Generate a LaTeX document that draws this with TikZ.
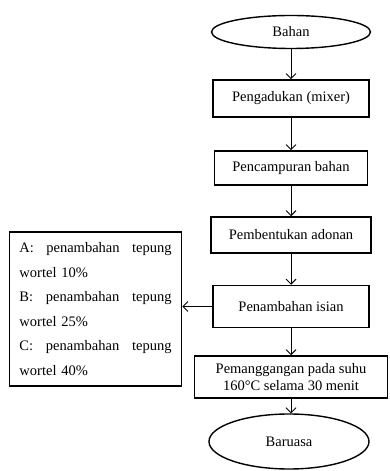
\documentclass[tikz,border=0pt]{standalone}
\usepackage{fontspec}
\setmainfont{Liberation Serif}
\usepackage{tikz}
\usetikzlibrary{shapes.geometric,arrows.meta}

\begin{document}
\begin{tikzpicture}[x=1pt, y=1pt,
    box/.style={draw, line width=1.5pt, align=center, inner sep=0pt,
                font=\fontsize{14.5}{17}\selectfont},
    term/.style={draw, ellipse, line width=1.4pt, inner sep=0pt,
                font=\fontsize{14.5}{17}\selectfont},
    note/.style={draw, line width=1.5pt, text width=152pt, align=left, inner xsep=10pt,
                font=\fontsize{14.5}{24.6}\selectfont},
    arr/.style={->, line width=0.9pt, >={Straight Barb[length=5pt, width=10pt]}}
]
\useasboundingbox (0,0) rectangle (389,471);
\node[term, minimum width=159pt, minimum height=33pt] (bahan) at (291,439) {Bahan};
\node[box, minimum width=156pt, minimum height=37pt] (aduk) at (291,372.5) {Pengadukan (mixer)};
\node[box, minimum width=153pt, minimum height=34pt] (campur) at (291,303) {Pencampuran bahan};
\node[box, minimum width=160pt, minimum height=36pt] (bentuk) at (291,236) {Pembentukan adonan};
\node[box, minimum width=156pt, minimum height=42pt] (isian) at (291,164.5) {Penambahan isian};
\node[box, minimum width=193pt, minimum height=42pt] (panggang) at (291,94) {Pemanggangan pada suhu\\160°C selama 30 menit};
\node[term, minimum width=160pt, minimum height=55pt] (baruasa) at (289,29.5) {Baruasa};
\node[note, minimum height=154pt] (varian) at (95.5,162)
  {A:\hfill penambahan\hfill tepung\\ wortel 10\%\\
   B:\hfill penambahan\hfill tepung\\ wortel 25\%\\
   C:\hfill penambahan\hfill tepung\\ wortel 40\%};
\draw[arr] (bahan)--(aduk); \draw[arr] (aduk)--(campur); \draw[arr] (campur)--(bentuk);
\draw[arr] (bentuk)--(isian); \draw[arr] (isian)--(panggang);
\draw[arr] (panggang.south) -- (panggang.south |- baruasa.north);
\draw[arr] (isian.west) -- (isian.west -| varian.east);
\end{tikzpicture}
\end{document}
